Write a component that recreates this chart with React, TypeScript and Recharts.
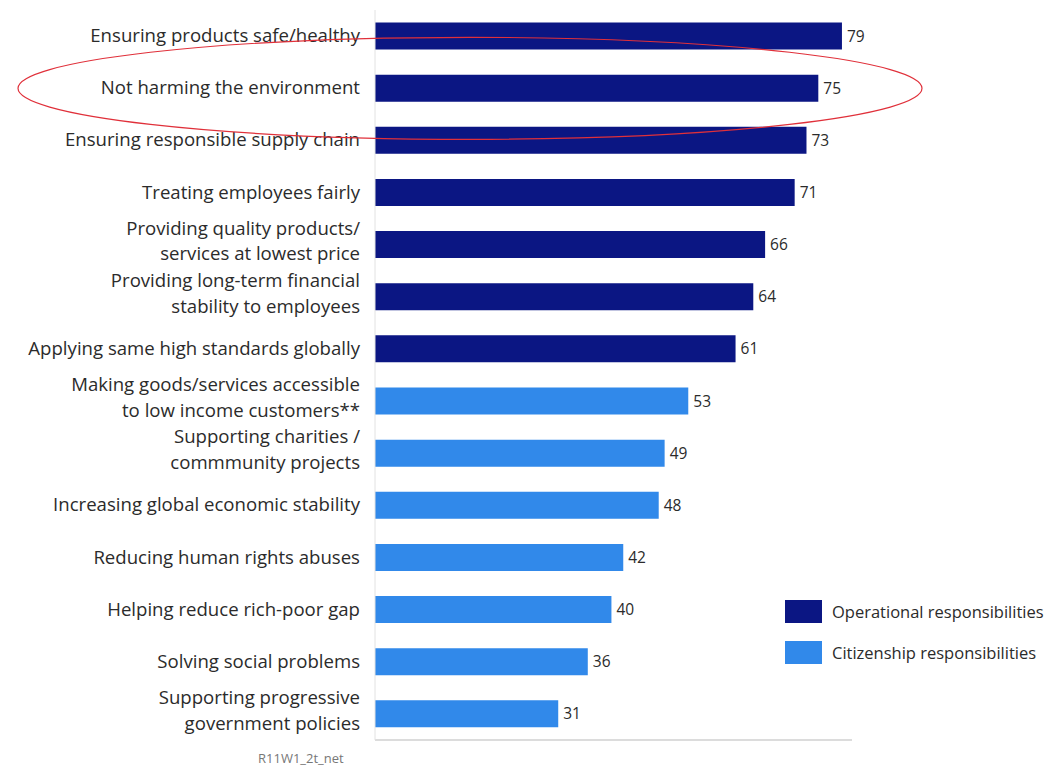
import { BarChart, Bar, XAxis, YAxis, Cell, LabelList } from 'recharts';

const categories = [
  'Ensuring products safe/healthy',
  'Not harming the environment',
  'Ensuring responsible supply chain',
  'Treating employees fairly',
  'Providing quality products/\nservices at lowest price',
  'Providing long-term financial\nstability to employees',
  'Applying same high standards globally',
  'Making goods/services accessible\nto low income customers**',
  'Supporting charities /\ncommmunity projects',
  'Increasing global economic stability',
  'Reducing human rights abuses',
  'Helping reduce rich-poor gap',
  'Solving social problems',
  'Supporting progressive\ngovernment policies',
];

const values = [79, 75, 73, 71, 66, 64, 61, 53, 49, 48, 42, 40, 36, 31];

const groups = ['op', 'op', 'op', 'op', 'op', 'op', 'op', 'cit', 'cit', 'cit', 'cit', 'cit', 'cit', 'cit'];

const groupColors: Record<string, string> = { op: '#0b1683', cit: '#3189ea' };
const groupNames: Record<string, string> = {
  op: 'Operational responsibilities',
  cit: 'Citizenship responsibilities',
};

const chartData = categories.map((name, i) => ({ name, value: values[i], group: groups[i] }));

const FONT = '"Open Sans", "Noto Sans", sans-serif';
const W = 1045;
const H = 768;
const TOP = 10;
const BOTTOM = 27;
const AXIS_W = 375;
const RIGHT = 1045 - 852;

// category label, right aligned, split on \n
const CategoryTick = ({ x, y, payload }: any) => {
  const lines = String(payload.value).split('\n');
  const lh = 25.5;
  const start = -((lines.length - 1) * lh) / 2;
  const shift = lines.length > 1 ? 3 : 6;
  const tx = x - 7;
  return (
    <text x={tx} y={y} textAnchor="end" fill="#2b2b2b" fontSize={18.6} fontFamily={FONT}>
      {lines.map((l, i) => (
        <tspan key={i} x={tx} dy={i === 0 ? start + shift : lh}>
          {l}
        </tspan>
      ))}
    </text>
  );
};

export default function App() {
  const plotH = H - TOP - BOTTOM;
  const band = plotH / categories.length;
  const ellY = TOP + band * 1.5;

  return (
    <div style={{ position: 'fixed', left: 0, top: 0, width: W, height: H, background: '#fff', fontFamily: FONT }}>
      <BarChart
        width={W}
        height={H}
        data={chartData}
        layout="vertical"
        margin={{ top: TOP, right: RIGHT, bottom: BOTTOM, left: 0 }}
        barCategoryGap="24%"
      >
        <XAxis
          type="number"
          domain={[0, 80.7]}
          tick={false}
          tickLine={false}
          height={1}
          axisLine={{ stroke: '#dcdcdc', strokeWidth: 2 }}
        />
        <YAxis
          type="category"
          dataKey="name"
          width={AXIS_W}
          tick={<CategoryTick />}
          tickLine={false}
          axisLine={{ stroke: '#e2e2e2', strokeWidth: 1 }}
          interval={0}
        />
        <Bar dataKey="value" isAnimationActive={false}>
          {chartData.map((d, i) => (
            <Cell key={i} fill={groupColors[d.group]} />
          ))}
          <LabelList dataKey="value" position="right" offset={5} fill="#2b2b2b" fontSize={15.5} fontFamily={FONT} />
        </Bar>
      </BarChart>

      {/* highlight ellipse round the environment row */}
      <svg width={W} height={H} style={{ position: 'absolute', left: 0, top: 0, pointerEvents: 'none' }}>
        <ellipse cx={470} cy={ellY} rx={452} ry={51} fill="none" stroke="#e0303a" strokeWidth={1.2} />
      </svg>

      <div style={{ position: 'absolute', left: 785, top: 599, fontSize: 16.5, color: '#2b2b2b' }}>
        {['op', 'cit'].map((g) => (
          <div key={g} style={{ display: 'flex', alignItems: 'center', height: 24, marginBottom: 17 }}>
            <div style={{ width: 37, height: 23, background: groupColors[g], marginRight: 10 }} />
            <span>{groupNames[g]}</span>
          </div>
        ))}
      </div>

      <div style={{ position: 'absolute', left: 258, top: 749, fontSize: 13, color: '#777' }}>R11W1_2t_net</div>
    </div>
  );
}
